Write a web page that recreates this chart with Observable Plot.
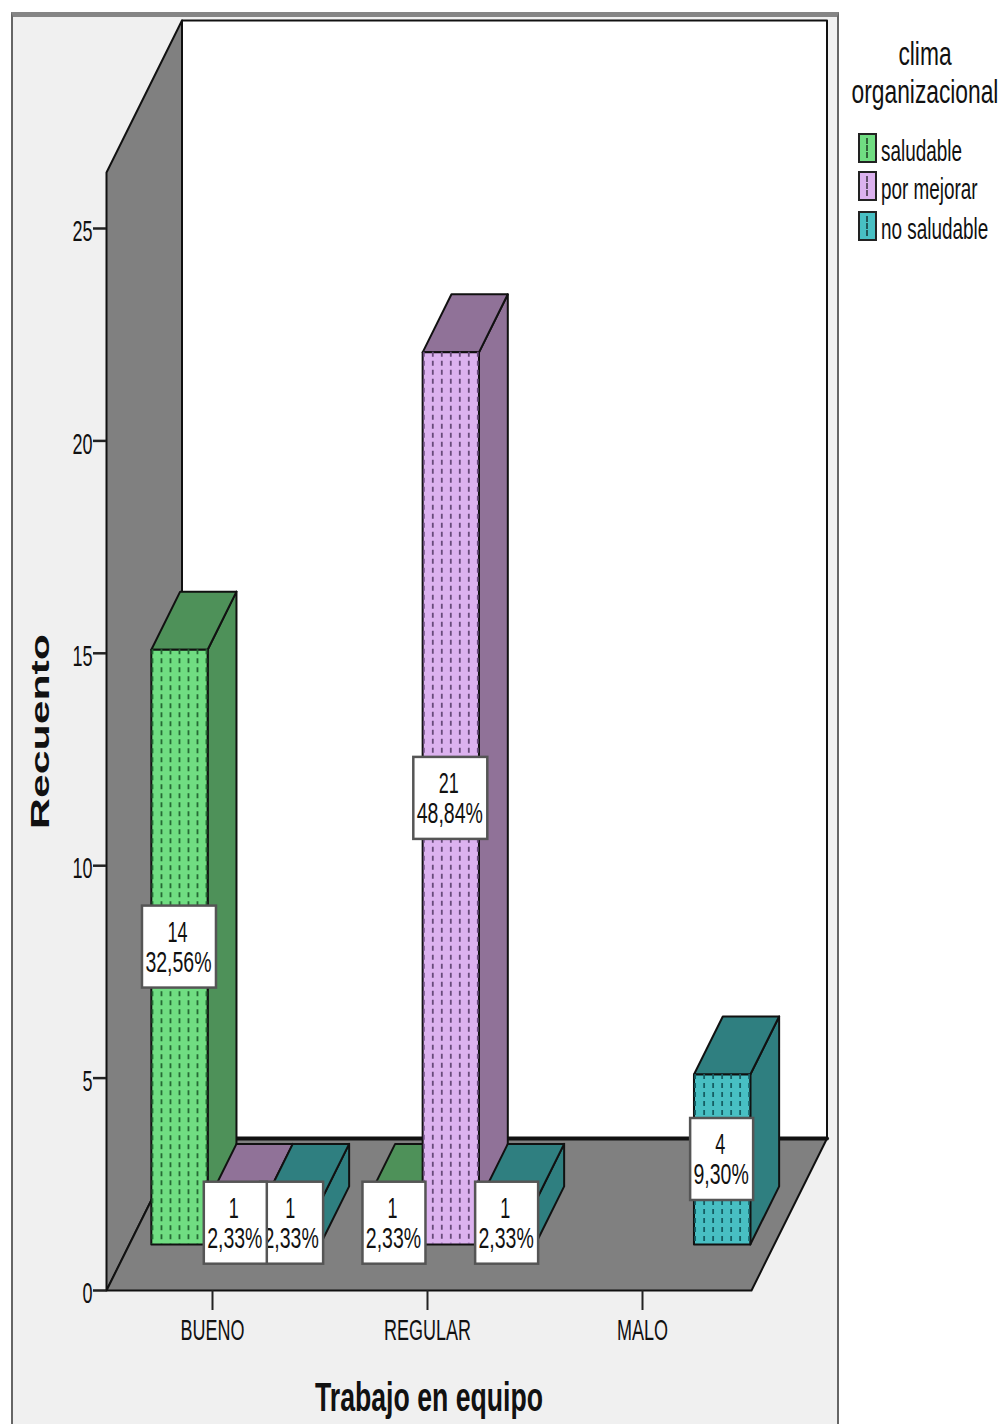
<!DOCTYPE html>
<html lang="es">
<head>
<meta charset="utf-8">
<title>Trabajo en equipo y clima organizacional</title>
<script src="https://cdn.jsdelivr.net/npm/d3@7"></script>
<script src="https://cdn.jsdelivr.net/npm/@observablehq/plot@0.6"></script>
<style>
  html, body { margin: 0; background: #fff; }
  #page { position: relative; width: 1003px; height: 1424px; overflow: hidden; font-family: "Liberation Sans", sans-serif; color: #111; }
  #panel { position: absolute; left: 11px; top: 12px; width: 824px; height: 1420px; background: #f0f0f0;
           border-top: 5px solid #858585; border-left: 2px solid #666; border-right: 2px solid #666; }
  #chart { position: absolute; left: 0; top: 0; }
  #chart svg { display: block; background: transparent; }
  .legend-title, .legend-label { position: absolute; white-space: nowrap; line-height: 1; }
  .legend-title { font-size: 33px; left: 925px; transform: translate(-50%, -50%) scaleX(.69); }
  .legend-label { font-size: 30px; left: 881px; transform: translateY(-50%) scaleX(.63); transform-origin: left center; }
  .swatch { position: absolute; left: 858px; width: 15px; height: 26px; border: 2px solid #222; }
  .swatch i { position: absolute; left: 6px; top: 3px; bottom: 3px; border-left: 2px dashed rgba(0,0,0,.55); }
</style>
</head>
<body>
<div id="page"><div id="panel"></div><div id="chart"></div></div>
<script>
// Counts and shares of the cross-tabulation
const categories = ["BUENO", "REGULAR", "MALO"];
const series = ["saludable", "por mejorar", "no saludable"];
const saludableCounts = [14, 1, 0];
const porMejorarCounts = [1, 21, 0];
const noSaludableCounts = [1, 1, 4];
const saludableShares = ["32,56%", "2,33%", ""];
const porMejorarShares = ["2,33%", "48,84%", ""];
const noSaludableShares = ["2,33%", "2,33%", "9,30%"];
const yTicks = [0, 5, 10, 15, 20, 25];

// Face colours per series: front, shaded sides, hatch dashes
const frontColors = ["#70dd82", "#dcb2ef", "#48bfc3"];
const shadeColors = ["#4e9159", "#907298", "#2f7f80"];
const hatchColors = ["#256a34", "#674a7a", "#155e64"];

const counts = [saludableCounts, porMejorarCounts, noSaludableCounts];
const shares = [saludableShares, porMejorarShares, noSaludableShares];

// Plot area geometry: the front plane of the box, and how data units relate to pixels
const W = 1003, H = 1424;
const margin = {left: 106, right: 252, top: 172, bottom: 134};
const unitX = 3 / (W - margin.left - margin.right);
const unitY = 1 / 42.48;
const yMax = (H - margin.top - margin.bottom) * unitY;
const depthX = 75.5 * unitX;
const depthY = 152 * unitY;

// Oblique projection: a point at a depth of 0..1 slides up and to the right
const project = (x, y, depth) => ({x: x + depth * depthX, y: y + depth * depthY});

const barFrontDepth = 0.303;
const barBackDepth = 0.685;
const slotStart = 0.102;
const slotWidth = 0.262;

const bars = series.flatMap((name, s) => categories.map((category, c) => ({
  name, category, s, value: counts[s][c], share: shares[s][c],
  x0: c + slotStart + s * slotWidth,
  x1: c + slotStart + (s + 1) * slotWidth
}))).filter(d => d.value > 0).sort((a, b) => a.x0 - b.x0);

// Box walls and floor
function polygon(id, fill, corners) {
  return corners.map(([x, y, depth]) => ({id, fill, ...project(x, y, depth)}));
}
const walls = [
  ...polygon("back", "#ffffff", [[0, 0, 1], [3, 0, 1], [3, yMax, 1], [0, yMax, 1]]),
  ...polygon("left", "#808080", [[0, 0, 0], [0, yMax, 0], [0, yMax, 1], [0, 0, 1]]),
  ...polygon("floor", "#808080", [[0, 0, 0], [3, 0, 0], [3, 0, 1], [0, 0, 1]])
];
const floorBackEdge = [project(0, 0, 1), project(3, 0, 1)];

// Three visible faces of each bar
const faces = bars.flatMap((b, i) => [
  ...polygon(`side${i}`, shadeColors[b.s], [
    [b.x1, 0, barFrontDepth], [b.x1, b.value, barFrontDepth], [b.x1, b.value, barBackDepth], [b.x1, 0, barBackDepth]]),
  ...polygon(`top${i}`, shadeColors[b.s], [
    [b.x0, b.value, barFrontDepth], [b.x1, b.value, barFrontDepth], [b.x1, b.value, barBackDepth], [b.x0, b.value, barBackDepth]]),
  ...polygon(`front${i}`, frontColors[b.s], [
    [b.x0, 0, barFrontDepth], [b.x1, 0, barFrontDepth], [b.x1, b.value, barFrontDepth], [b.x0, b.value, barFrontDepth]])
]);

// Dashed hatch columns on the front faces
const hatch = bars.flatMap(b => d3.range(-3, 4).map(k => {
  const mid = (b.x0 + b.x1) / 2;
  const low = project(mid + k * 9 * unitX, 0, barFrontDepth);
  const high = project(mid + k * 9 * unitX, b.value, barFrontDepth);
  return {x: low.x, y1: high.y, y2: low.y, stroke: hatchColors[b.s]};
}));

// Value boxes centred on each front face; later slots are stacked underneath
const labels = bars.map(b => {
  const centre = project((b.x0 + b.x1) / 2, b.value / 2, barFrontDepth);
  const halfW = (b.share.length > 5 ? 37 : 31.5) * unitX;
  const halfH = 41 * unitY;
  return {...b, cx: centre.x, cy: centre.y, left: centre.x - halfW, right: centre.x + halfW,
          bottom: centre.y - halfH, top: centre.y + halfH};
}).reverse();

const chart = Plot.plot({
  width: W,
  height: H,
  marginLeft: margin.left,
  marginRight: margin.right,
  marginTop: margin.top,
  marginBottom: margin.bottom,
  style: {fontFamily: "Liberation Sans, sans-serif", color: "#111", background: "transparent"},
  x: {domain: [0, 3], range: [margin.left, W - margin.right]},
  y: {domain: [0, yMax], range: [H - margin.bottom, margin.top]},
  color: {type: "identity"},
  marks: [
    Plot.line(walls, {x: "x", y: "y", z: "id", fill: "fill", stroke: "#111", strokeWidth: 2, curve: "linear-closed"}),
    Plot.line(floorBackEdge, {x: "x", y: "y", stroke: "#111", strokeWidth: 4}),
    Plot.axisY({ticks: yTicks, label: null, tickSize: 13, text: null, strokeWidth: 2.5, stroke: "#222"}),
    Plot.axisY({ticks: yTicks, label: null, tickSize: 0, tickPadding: 14, fontSize: 30, dy: 3, tickFormat: d => `${d}`}),
    Plot.axisX({ticks: [0.5, 1.5, 2.5], label: null, tickSize: 20, text: null, dx: -1.5, strokeWidth: 2, stroke: "#222"}),
    Plot.axisX({ticks: [0.5, 1.5, 2.5], label: null, tickSize: 0, tickPadding: 28, fontSize: 30, dx: -1.5,
                tickFormat: d => categories[Math.floor(d)]}),
    Plot.line(faces, {x: "x", y: "y", z: "id", fill: "fill", stroke: "#111", strokeWidth: 2, curve: "linear-closed"}),
    Plot.ruleX(hatch, {x: "x", y1: "y1", y2: "y2", stroke: "stroke", strokeWidth: 1.8, strokeDasharray: "5,4"}),
    ...labels.flatMap(d => [
      Plot.rect([d], {x1: "left", x2: "right", y1: "bottom", y2: "top", fill: "#fff", stroke: "#555", strokeWidth: 2.5}),
      Plot.text([d], {x: "cx", y: "cy", text: d => `${d.value}`, dx: -2, dy: -15, fontSize: 30, fill: "#111"}),
      Plot.text([d], {x: "cx", y: "cy", text: "share", dx: -1, dy: 15, fontSize: 30, fill: "#111"})
    ]),
    Plot.text(["Recuento"], {frameAnchor: "left", textAnchor: "middle", dx: -66, rotate: -90, fontSize: 26, fontWeight: "bold", fill: "#111"}),
    Plot.text(["Trabajo en equipo"], {frameAnchor: "bottom", dy: 120, fontSize: 40, fontWeight: "bold", fill: "#111"})
  ]
});
document.getElementById("chart").append(chart);

// The lettering is tall and condensed: compress each string along its reading direction
const fixedLengths = {"Recuento": 195, "Trabajo en equipo": 228};
chart.querySelectorAll("text").forEach(t => {
  const content = t.textContent;
  const ratio = /%$/.test(content) ? 0.65 : 0.6;
  const target = fixedLengths[content] ?? t.getComputedTextLength() * ratio;
  t.setAttribute("textLength", target);
  t.setAttribute("lengthAdjust", "spacingAndGlyphs");
});

// Legend at the right of the chart
const page = document.getElementById("page");
function addBlock(className, text, top) {
  const el = document.createElement("div");
  el.className = className;
  el.textContent = text;
  el.style.top = `${top}px`;
  page.append(el);
}
addBlock("legend-title", "clima", 53);
addBlock("legend-title", "organizacional", 91);
const legendRows = [151, 189, 229];
series.forEach((name, s) => {
  const swatch = document.createElement("div");
  swatch.className = "swatch";
  swatch.style.top = `${legendRows[s] - 18}px`;
  swatch.style.background = frontColors[s];
  swatch.innerHTML = "<i></i>";
  page.append(swatch);
  addBlock("legend-label", name, legendRows[s]);
});
</script>
</body>
</html>
